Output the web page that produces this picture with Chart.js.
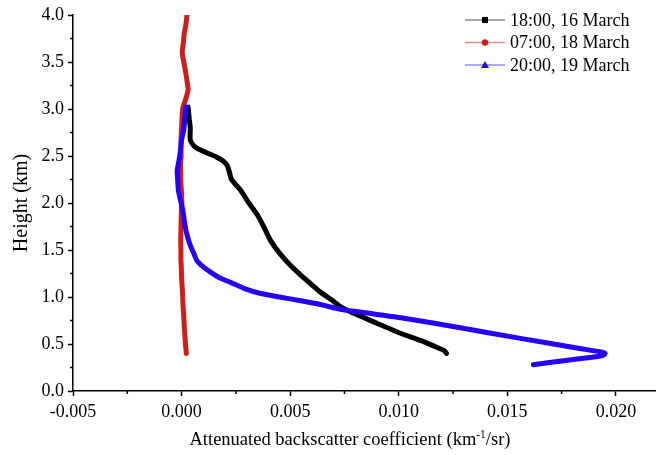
<!DOCTYPE html>
<html>
<head>
<meta charset="utf-8">
<script src="https://cdn.jsdelivr.net/npm/chart.js@4.4.0/dist/chart.umd.min.js"></script>
<style>
  html, body { margin: 0; padding: 0; background: #fff; }
  #wrap { width: 657px; height: 455px; }
</style>
</head>
<body>
<div id="wrap"><canvas id="lidarChart" width="657" height="455"></canvas></div>
<script>
// values (height in km, coefficient in km-1/sr)
const seriesNames = ["18:00, 16 March", "07:00, 18 March", "20:00, 19 March"];

const blackHeight = [3.02, 2.9, 2.8, 2.67, 2.6, 2.56, 2.52, 2.49, 2.45, 2.4, 2.33, 2.25, 2.14, 2.0, 1.87, 1.74, 1.6, 1.47, 1.34, 1.23, 1.13, 1.05, 0.97, 0.9, 0.84, 0.77, 0.7, 0.63, 0.57, 0.52, 0.47, 0.43, 0.4];
const blackCoef = [0.0003, 0.00035, 0.0004, 0.0004, 0.0006, 0.0009, 0.0013, 0.0016, 0.0019, 0.0021, 0.0022, 0.0023, 0.0027, 0.0031, 0.0035, 0.0038, 0.0041, 0.0045, 0.005, 0.0055, 0.006, 0.0064, 0.0069, 0.0073, 0.0078, 0.0085, 0.0092, 0.0099, 0.0106, 0.0112, 0.0117, 0.0121, 0.0122];

const redHeight = [4.0, 3.9, 3.8, 3.7, 3.6, 3.5, 3.4, 3.3, 3.2, 3.1, 3.0, 2.9, 2.8, 2.7, 2.6, 2.5, 2.4, 2.3, 2.2, 2.1, 2.0, 1.9, 1.8, 1.7, 1.6, 1.5, 1.4, 1.3, 1.2, 1.1, 1.0, 0.9, 0.8, 0.7, 0.6, 0.5, 0.4];
const redCoef = [0.00025, 0.0002, 0.00012, 0.00008, 0.00003, 0.0001, 0.00018, 0.00025, 0.0003, 0.00018, 0.00005, 0.00002, 0.0, -0.00002, -0.00003, -0.00002, -0.00005, -0.00004, -0.00003, 0.0, 0.00001, -0.00001, -0.00002, -0.00003, -0.00004, -0.00003, -0.00003, -0.00001, 0.0, 0.00003, 0.00005, 0.00007, 0.0001, 0.00012, 0.00015, 0.00018, 0.00022];

const blueHeight = [3.02, 2.9, 2.78, 2.67, 2.56, 2.45, 2.35, 2.25, 2.14, 2.03, 1.93, 1.82, 1.71, 1.62, 1.55, 1.47, 1.39, 1.32, 1.27, 1.21, 1.15, 1.09, 1.04, 1.0, 0.96, 0.92, 0.87, 0.78, 0.67, 0.56, 0.45, 0.42, 0.4, 0.38, 0.36, 0.32, 0.28];
const blueCoef = [0.0002, 0.00015, 0.0001, 0.0, -0.00005, -0.00012, -0.0002, -0.00018, -0.00015, -0.00005, 0.00005, 0.00012, 0.0002, 0.0003, 0.0004, 0.00055, 0.0007, 0.001, 0.0013, 0.0017, 0.0023, 0.0029, 0.0036, 0.0045, 0.0055, 0.0064, 0.0073, 0.0101, 0.0129, 0.0156, 0.0184, 0.0192, 0.0195, 0.0194, 0.0189, 0.0175, 0.0162];

const xTickStep = 0.005;
const yTickStep = 0.5;

const serif = "'Liberation Serif', 'Times New Roman', serif";
const lineColors = ["#000000", "#d01c1c", "#2400ff"];
const legendLineColors = ["#8c8c8c", "#e48c8c", "#8c8cff"];

function toPoints(xs, ys) {
  return xs.map((x, i) => ({ x: x, y: ys[i] }));
}

// minor ticks half way between the major ones
const minorTicks = {
  id: "minorTicks",
  afterDraw(chart) {
    const ctx = chart.ctx;
    const xs = chart.scales.x;
    const ys = chart.scales.y;
    ctx.save();
    ctx.strokeStyle = "#000";
    ctx.lineWidth = 1.5;
    for (let i = 0; i < xs.ticks.length - 1; i++) {
      const px = xs.getPixelForValue((xs.ticks[i].value + xs.ticks[i + 1].value) / 2);
      ctx.beginPath();
      ctx.moveTo(px, xs.top);
      ctx.lineTo(px, xs.top + 3);
      ctx.stroke();
    }
    for (let i = 0; i < ys.ticks.length - 1; i++) {
      const py = ys.getPixelForValue((ys.ticks[i].value + ys.ticks[i + 1].value) / 2);
      ctx.beginPath();
      ctx.moveTo(ys.right, py);
      ctx.lineTo(ys.right - 3, py);
      ctx.stroke();
    }
    ctx.restore();
  }
};

// x title with the superscript -1
const xTitle = {
  id: "xTitle",
  afterDraw(chart) {
    const ctx = chart.ctx;
    const a = "Attenuated backscatter coefficient (km";
    const sup = "-1";
    const b = "/sr)";
    const big = "18.5px " + serif;
    const small = "11.5px " + serif;
    ctx.save();
    ctx.fillStyle = "#000";
    ctx.textBaseline = "alphabetic";
    ctx.font = big;
    const wa = ctx.measureText(a).width;
    const wb = ctx.measureText(b).width;
    ctx.font = small;
    const ws = ctx.measureText(sup).width;
    let x = 350 - (wa + ws + wb) / 2;
    const y = 445;
    ctx.font = big;
    ctx.fillText(a, x, y);
    x += wa;
    ctx.font = small;
    ctx.fillText(sup, x, y - 7);
    x += ws;
    ctx.font = big;
    ctx.fillText(b, x, y);
    ctx.restore();
  }
};

// legend: short line with the marker in the middle
const lineLegend = {
  id: "lineLegend",
  afterDraw(chart) {
    const ctx = chart.ctx;
    const x0 = 465, x1 = 505, top = 20, gap = 22.5;
    ctx.save();
    chart.data.datasets.forEach((ds, i) => {
      const y = top + i * gap;
      ctx.strokeStyle = legendLineColors[i];
      ctx.lineWidth = 1.5;
      ctx.beginPath();
      ctx.moveTo(x0, y);
      ctx.lineTo(x1, y);
      ctx.stroke();
      const cx = (x0 + x1) / 2;
      ctx.fillStyle = lineColors[i];
      ctx.beginPath();
      if (ds.pointStyle === "rect") {
        ctx.rect(cx - 3, y - 3, 6, 6);
      } else if (ds.pointStyle === "circle") {
        ctx.arc(cx, y, 3.2, 0, Math.PI * 2);
      } else {
        ctx.moveTo(cx, y - 4);
        ctx.lineTo(cx + 4, y + 3);
        ctx.lineTo(cx - 4, y + 3);
        ctx.closePath();
      }
      ctx.fill();
      ctx.fillStyle = "#000";
      ctx.font = "18px " + serif;
      ctx.textBaseline = "middle";
      ctx.fillText(ds.label, x1 + 5, y + 1);
    });
    ctx.restore();
  }
};

const ctx = document.getElementById("lidarChart").getContext("2d");

new Chart(ctx, {
  type: "scatter",
  data: {
    datasets: [
      {
        label: seriesNames[0],
        data: toPoints(blackCoef, blackHeight),
        borderColor: lineColors[0],
        backgroundColor: lineColors[0],
        pointStyle: "rect",
        order: 3
      },
      {
        label: seriesNames[1],
        data: toPoints(redCoef, redHeight),
        borderColor: lineColors[1],
        backgroundColor: lineColors[1],
        pointStyle: "circle",
        order: 2
      },
      {
        label: seriesNames[2],
        data: toPoints(blueCoef, blueHeight),
        borderColor: lineColors[2],
        backgroundColor: lineColors[2],
        pointStyle: "triangle",
        order: 1
      }
    ]
  },
  options: {
    responsive: false,
    animation: false,
    showLine: true,
    elements: {
      line: { borderWidth: 5, tension: 0.2, borderCapStyle: "round", borderJoinStyle: "round" },
      point: { radius: 0, hoverRadius: 0 }
    },
    layout: {
      padding: { top: 15, right: 2, bottom: 0, left: 0 }
    },
    scales: {
      x: {
        type: "linear",
        min: -0.005,
        max: 0.0218,
        afterFit: (scale) => { scale.height = 64; },
        border: { display: true, color: "#000", width: 1.5 },
        grid: { drawOnChartArea: false, drawTicks: true, tickLength: 5, tickColor: "#000", tickWidth: 1.5 },
        ticks: {
          stepSize: xTickStep,
          includeBounds: false,
          color: "#000",
          padding: 5,
          maxRotation: 0,
          font: { family: serif, size: 18 },
          callback: (v) => v.toFixed(3)
        }
      },
      y: {
        type: "linear",
        min: 0,
        max: 4,
        afterFit: (scale) => { scale.width = 73; },
        border: { display: true, color: "#000", width: 1.5 },
        grid: { drawOnChartArea: false, drawTicks: true, tickLength: 5, tickColor: "#000", tickWidth: 1.5 },
        title: {
          display: true,
          text: "Height (km)",
          color: "#000",
          font: { family: serif, size: 20 },
          padding: { top: 10, bottom: 0 }
        },
        ticks: {
          stepSize: yTickStep,
          color: "#000",
          padding: 4,
          font: { family: serif, size: 18 },
          callback: (v) => v.toFixed(1)
        }
      }
    },
    plugins: {
      legend: { display: false },
      tooltip: { enabled: false }
    }
  },
  plugins: [minorTicks, xTitle, lineLegend]
});
</script>
</body>
</html>
